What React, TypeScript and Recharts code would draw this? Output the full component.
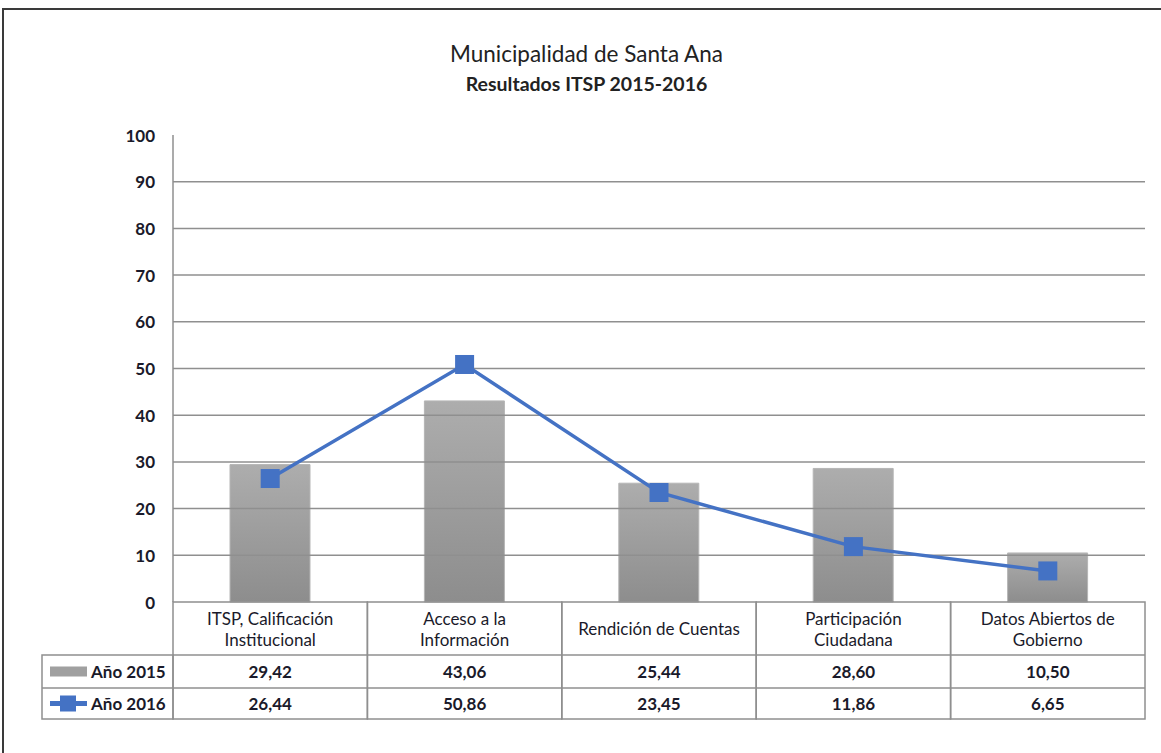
import React from "react";
import { ComposedChart, Bar, Line, XAxis, YAxis, ReferenceLine } from "recharts";

const categories = [
  ["ITSP, Calificación", "Institucional"],
  ["Acceso a la", "Información"],
  ["Rendición de Cuentas"],
  ["Participación", "Ciudadana"],
  ["Datos Abiertos de", "Gobierno"],
];
const values2015 = [29.42, 43.06, 25.44, 28.6, 10.5];
const values2016 = [26.44, 50.86, 23.45, 11.86, 6.65];
const labels2015 = ["29,42", "43,06", "25,44", "28,60", "10,50"];
const labels2016 = ["26,44", "50,86", "23,45", "11,86", "6,65"];
const yTicks = [0, 10, 20, 30, 40, 50, 60, 70, 80, 90, 100];
const gridValues = [10, 20, 30, 40, 50, 60, 70, 80, 90];
const seriesNames = ["Año 2015", "Año 2016"];

const data = categories.map((c, i) => ({
  key: String(i),
  y2015: values2015[i],
  y2016: values2016[i],
}));

const W = 1161;
const H = 753;
const PLOT_LEFT = 173;
const PLOT_RIGHT = 1145;
const PLOT_TOP = 135;
const PLOT_BOTTOM = 602;
const X_AXIS_H = 120;
const Y_AXIS_W = 60;
const FONT = "Lato, 'Open Sans', sans-serif";
const LINE = "#8f8f8f";
const BLUE = "#4472C4";
const TEXT = "#1a1a2a";
const FS = 17;

const HEADER_BOTTOM = 655;
const ROW1_BOTTOM = 688;
const ROW2_BOTTOM = 719;
const TABLE_LEFT = 42;

const colW = (PLOT_RIGHT - PLOT_LEFT) / categories.length;

const XTick = (props: any) => {
  const { x, payload, index } = props;
  const i = Number(payload.value);
  const left = x - colW / 2;
  const lines = categories[i];
  const headerMid = (PLOT_BOTTOM + HEADER_BOTTOM) / 2;
  return (
    <g>
      <rect x={left} y={PLOT_BOTTOM} width={colW} height={ROW2_BOTTOM - PLOT_BOTTOM} fill="none" stroke={LINE} strokeWidth={1.5} />
      <line x1={left} x2={left + colW} y1={HEADER_BOTTOM} y2={HEADER_BOTTOM} stroke={LINE} strokeWidth={1.5} />
      <line x1={left} x2={left + colW} y1={ROW1_BOTTOM} y2={ROW1_BOTTOM} stroke={LINE} strokeWidth={1.5} />
      {lines.map((t, k) => (
        <text
          key={k}
          x={x}
          y={headerMid + (k - (lines.length - 1) / 2) * 21}
          textAnchor="middle"
          dominantBaseline="central"
          fontFamily={FONT}
          fontSize={FS}
          fill={TEXT}
        >
          {t}
        </text>
      ))}
      <text x={x} y={(HEADER_BOTTOM + ROW1_BOTTOM) / 2} textAnchor="middle" dominantBaseline="central" fontFamily={FONT} fontSize={FS} fontWeight="bold" fill={TEXT}>
        {labels2015[i]}
      </text>
      <text x={x} y={(ROW1_BOTTOM + ROW2_BOTTOM) / 2} textAnchor="middle" dominantBaseline="central" fontFamily={FONT} fontSize={FS} fontWeight="bold" fill={TEXT}>
        {labels2016[i]}
      </text>
      {index === 0 && (
        <g>
          <rect x={TABLE_LEFT} y={HEADER_BOTTOM} width={left - TABLE_LEFT} height={ROW2_BOTTOM - HEADER_BOTTOM} fill="none" stroke={LINE} strokeWidth={1.5} />
          <line x1={TABLE_LEFT} x2={left} y1={ROW1_BOTTOM} y2={ROW1_BOTTOM} stroke={LINE} strokeWidth={1.5} />
          <rect x={50} y={(HEADER_BOTTOM + ROW1_BOTTOM) / 2 - 5} width={37} height={10} fill="#a0a0a0" />
          <text x={91} y={(HEADER_BOTTOM + ROW1_BOTTOM) / 2} dominantBaseline="central" fontFamily={FONT} fontSize={FS} fontWeight="bold" fill={TEXT}>
            {seriesNames[0]}
          </text>
          <line x1={50} x2={87} y1={(ROW1_BOTTOM + ROW2_BOTTOM) / 2} y2={(ROW1_BOTTOM + ROW2_BOTTOM) / 2} stroke={BLUE} strokeWidth={5} />
          <rect x={60} y={(ROW1_BOTTOM + ROW2_BOTTOM) / 2 - 8} width={16} height={16} fill={BLUE} />
          <text x={91} y={(ROW1_BOTTOM + ROW2_BOTTOM) / 2} dominantBaseline="central" fontFamily={FONT} fontSize={FS} fontWeight="bold" fill={TEXT}>
            {seriesNames[1]}
          </text>
        </g>
      )}
    </g>
  );
};

const YTick = (props: any) => {
  const { x, y, payload } = props;
  return (
    <text x={x} y={y} textAnchor="end" dominantBaseline="central" fontFamily={FONT} fontSize={FS} fontWeight="bold" fill={TEXT}>
      {payload.value}
    </text>
  );
};

const SquareDot = (props: any) => {
  const { cx, cy } = props;
  if (cx == null || cy == null) return null;
  const s = 19;
  return <rect x={cx - s / 2} y={cy - s / 2} width={s} height={s} fill={BLUE} />;
};

export default function App() {
  return (
    <div style={{ position: "absolute", left: 0, top: 0, width: W, height: H, background: "#fff", overflow: "hidden" }}>
      <div
        style={{
          position: "absolute",
          left: 2,
          top: 8,
          width: W,
          height: H,
          border: "2px solid #3a3a3a",
          boxSizing: "border-box",
        }}
      />
      <div style={{ position: "absolute", left: 0, width: 1173, top: 40, textAlign: "center", fontFamily: FONT, fontSize: 22.5, lineHeight: "28px", color: "#222" }}>
        Municipalidad de Santa Ana
      </div>
      <div style={{ position: "absolute", left: 0, width: 1173, top: 72, textAlign: "center", fontFamily: FONT, fontSize: 19.5, lineHeight: "24px", fontWeight: "bold", color: "#222" }}>
        Resultados ITSP 2015-2016
      </div>
      <div style={{ position: "absolute", left: 0, top: 0 }}>
        <ComposedChart
          width={W}
          height={H}
          data={data}
          margin={{ top: PLOT_TOP, right: W - PLOT_RIGHT, bottom: H - PLOT_BOTTOM - X_AXIS_H, left: PLOT_LEFT - Y_AXIS_W }}
        >
          <defs>
            <linearGradient id="barGrad" x1="0" y1="0" x2="0" y2="1">
              <stop offset="0%" stopColor="#adadad" />
              <stop offset="100%" stopColor="#8d8d8d" />
            </linearGradient>
          </defs>
          {gridValues.map((v) => (
            <ReferenceLine key={v} y={v} stroke={LINE} strokeWidth={1.5} ifOverflow="extendDomain" />
          ))}
          <XAxis
            dataKey="key"
            height={X_AXIS_H}
            axisLine={false}
            tickLine={false}
            tickSize={0}
            tickMargin={0}
            tick={<XTick />}
            interval={0}
          />
          <YAxis
            width={Y_AXIS_W}
            domain={[0, 100]}
            ticks={yTicks}
            interval={0}
            axisLine={{ stroke: LINE, strokeWidth: 1.5 }}
            tickLine={false}
            tickSize={0}
            tickMargin={18}
            tick={<YTick />}
          />
          <Bar dataKey="y2015" name={seriesNames[0]} fill="url(#barGrad)" stroke="#b5b5b5" strokeWidth={1} barSize={80} isAnimationActive={false} />
          <Line dataKey="y2016" name={seriesNames[1]} stroke={BLUE} strokeWidth={3.5} dot={<SquareDot />} activeDot={false} isAnimationActive={false} />
        </ComposedChart>
      </div>
    </div>
  );
}
